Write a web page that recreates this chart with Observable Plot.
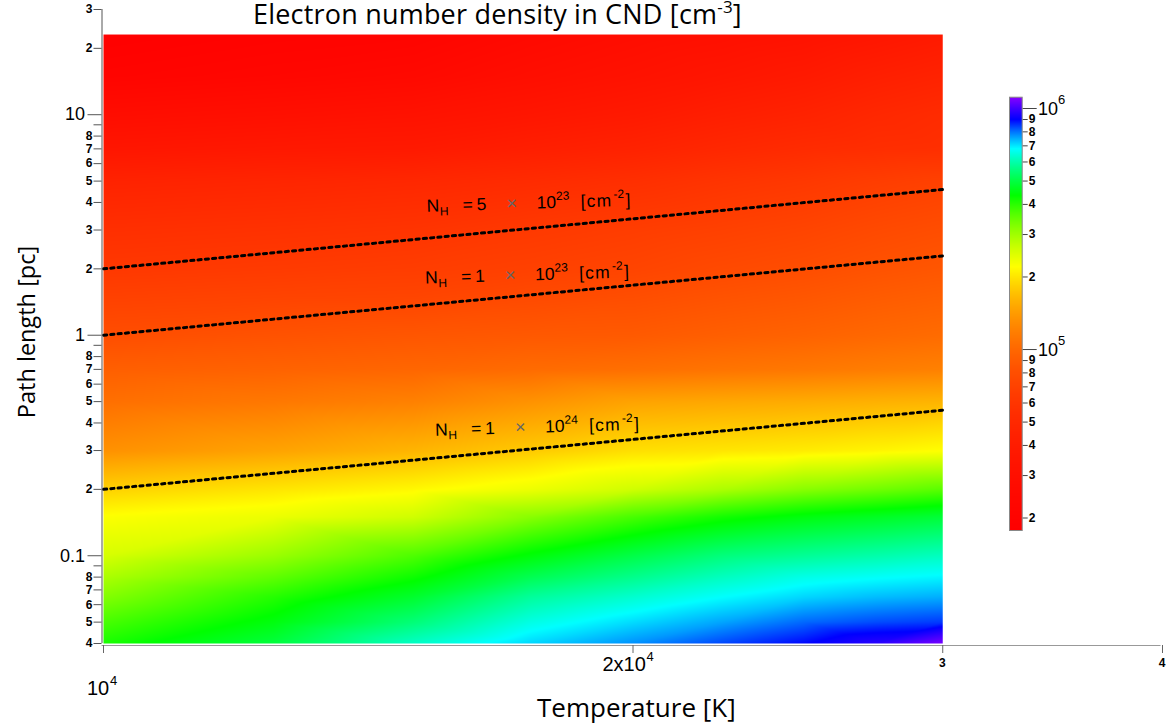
<!DOCTYPE html>
<html><head><meta charset="utf-8">
<script src="https://cdn.jsdelivr.net/npm/d3@7"></script>
<script src="https://cdn.jsdelivr.net/npm/@observablehq/plot@0.6"></script>
<style>
html,body{margin:0;padding:0;background:#fff;}
#wrap{position:relative;width:1168px;height:723px;overflow:hidden;background:#fff;}
#wrap > svg{position:absolute;}
</style></head><body><div id="wrap"></div>
<script>
// ---------------- data ----------------
const temperatures = [10000, 12500, 15000, 17500, 20000, 22500, 25000, 27500, 30000]; // K
const pathLengths = [23, 15, 10, 7, 5, 3, 2, 1.5, 1, 0.7, 0.5, 0.3, 0.2, 0.15, 0.1, 0.08, 0.065, 0.05, 0.04]; // pc
// electron number density (units of 1e3 cm^-3), one list per temperature, rows follow pathLengths
const ne_T10000 = [18, 21, 28, 35, 45, 55, 62, 69, 79, 93, 106, 133, 184, 222, 254, 290, 325, 375, 415];
const ne_T12500 = [20, 23, 30, 37, 47, 57, 64, 71, 83, 96, 113, 147, 200, 236, 305, 355, 405, 450, 495];
const ne_T15000 = [21, 25, 32, 38, 49, 59, 66, 72, 86, 99, 120, 161, 215, 260, 370, 425, 480, 550, 625];
const ne_T17500 = [25, 29, 35, 42, 52, 63, 69, 76, 88, 103, 134, 178, 235, 320, 445, 515, 585, 655, 715];
const ne_T20000 = [28, 32, 38, 45, 55, 66, 72, 79, 89, 106, 147, 195, 260, 375, 505, 570, 635, 710, 775];
const ne_T22500 = [30, 35, 42, 49, 59, 69, 76, 83, 93, 110, 151, 200, 290, 420, 555, 620, 680, 758, 840];
const ne_T25000 = [32, 38, 45, 52, 62, 72, 79, 86, 96, 113, 154, 205, 320, 450, 580, 658, 715, 810, 895];
const ne_T27500 = [35, 42, 49, 54, 66, 76, 83, 90, 100, 117, 158, 212, 340, 470, 600, 675, 737, 835, 965];
const ne_T30000 = [38, 45, 52, 55, 69, 79, 86, 93, 103, 120, 161, 220, 360, 490, 620, 688, 750, 850, 1090];

const colorStops = [17750, 220000, 436000, 680000, 900000, 1114000];
const colorRange = ["#ff0000", "#ffff00", "#00ff00", "#00ffff", "#0000ff", "#8a00ff"];

// constant column density lines
const nhLineT = [10000, 30000];
const nhLine5e23 = [2.0, 4.58];
const nhLine1e23 = [1.0, 2.29];
const nhLine1e24 = [0.2, 0.457];
const nhMantissa = ["5", "1", "1"];
const nhExponent = ["23", "23", "24"];
const nhLabelT = [15280, 15250, 15450];
const nhLabelL = [3.61, 1.707, 0.3485];

const yMajorTicks = [0.1, 1, 10];
const yMinorTicks = [0.04, 0.05, 0.06, 0.07, 0.08, 0.2, 0.3, 0.4, 0.5, 0.6, 0.7, 0.8, 2, 3, 4, 5, 6, 7, 8, 20, 30];
const yBlankTicks = [0.09, 0.9, 9];
const xTicks = [10000, 20000, 30000, 40000];
const cbMajorTicks = [1e5, 1e6];
const cbMinorTicks = [2e4, 3e4, 4e4, 5e4, 6e4, 7e4, 8e4, 9e4, 2e5, 3e5, 4e5, 5e5, 6e5, 7e5, 8e5, 9e5];

// ---------------- build ----------------
const columns = [ne_T10000, ne_T12500, ne_T15000, ne_T17500, ne_T20000, ne_T22500, ne_T25000, ne_T27500, ne_T30000];
const grid = [];
columns.forEach((col, j) => col.forEach((v, i) => grid.push({T: temperatures[j], L: pathLengths[i], ne: v * 1000})));
const nhLines = [
  ...nhLineT.map((t, i) => ({id: "5e23", T: t, L: nhLine5e23[i]})),
  ...nhLineT.map((t, i) => ({id: "1e23", T: t, L: nhLine1e23[i]})),
  ...nhLineT.map((t, i) => ({id: "1e24", T: t, L: nhLine1e24[i]}))
];
const colorOpts = {type: "linear", domain: colorStops, range: colorRange, interpolate: "rgb", clamp: true};
const sans = "'Liberation Sans', Arial, Helvetica, sans-serif";
const human = "'Open Sans', Lato, sans-serif";
const minorFmt = d => String(Math.round(d / Math.pow(10, Math.floor(Math.log10(d) + 1e-9))));

const main = Plot.plot({
  width: 1168, height: 723,
  marginLeft: 103, marginRight: 6, marginTop: 9, marginBottom: 80,
  style: {background: "transparent", fontFamily: sans},
  x: {type: "log", domain: [1e4, 4e4], label: null},
  y: {type: "log", domain: [0.04, 30], label: null},
  color: colorOpts,
  marks: [
    Plot.raster(grid, {x: "T", y: "L", fill: "ne", interpolate: "barycentric", x1: 1e4, x2: 3e4, y1: 23.1, y2: 0.04}),
    Plot.line(nhLines, {x: "T", y: "L", z: "id", stroke: "black", strokeWidth: 3, strokeDasharray: "3.2,4.1"}),
    Plot.ruleX([1e4], {y1: 0.04, y2: 30, dx: -1.5, stroke: "#555"}),
    Plot.ruleY([0.04], {x1: 1e4, x2: 4e4, dy: 2, dx: -1.5, stroke: "#999"}),
    Plot.axisY(yMajorTicks, {tickSize: 14, dx: -1.5, stroke: "#555", label: null, tickFormat: () => ""}),
    Plot.axisY(yMinorTicks, {tickSize: 8, dx: -1.5, stroke: "#555", label: null, tickFormat: () => ""}),
    Plot.axisY(yBlankTicks, {tickSize: 8, dx: -1.5, stroke: "#555", label: null, tickFormat: () => ""}),
    Plot.text(yMajorTicks, {y: d => d, frameAnchor: "left", textAnchor: "end", dx: -18.5, fontSize: 18, fill: "#000", text: d => d < 1 ? "0.1" : String(d)}),
    Plot.text(yMinorTicks, {y: d => d, frameAnchor: "left", textAnchor: "end", dx: -11, fontSize: 12, fontWeight: "bold", fill: "#000", text: minorFmt}),
    Plot.axisX(xTicks, {tickSize: 8, dy: 2, stroke: "#666", label: null, tickFormat: () => ""})
  ]
});
main.style.left = "0px"; main.style.top = "0px";
document.getElementById("wrap").appendChild(main);

const sx = main.scale("x"), sy = main.scale("y");
const X = v => sx.apply(v), Y = v => sy.apply(v);
const svg = d3.select(main);

function addText(sel, x, y, parts, o = {}) {
  const t = sel.append("text")
    .attr("x", x).attr("y", y)
    .attr("font-family", o.family || sans)
    .attr("font-size", o.size || 17)
    .attr("font-weight", o.weight || "normal")
    .attr("text-anchor", o.anchor || "start")
    .attr("fill", "#000");
  if (o.spacing) t.attr("letter-spacing", o.spacing);
  if (o.rotate) t.attr("transform", `rotate(${o.rotate},${x},${y})`);
  for (const p of parts) {
    const ts = t.append("tspan").text(p.t);
    if (p.x != null) ts.attr("x", x + p.x);
    ts.attr("y", y + (p.y || 0));
    if (p.size) ts.attr("font-size", p.size);
    if (p.fill) ts.attr("fill", p.fill);
  }
  return t;
}

// title
addText(svg, 253, 24, [
  {t: "Electron number density in CND [cm"},
  {t: "-3", y: -11, size: 17},
  {t: "]", y: 0}
], {family: human, size: 27, spacing: 0.2});

// axis titles
addText(svg, 537, 717, [{t: "Temperature [K]"}], {family: human, size: 26});
addText(svg, 35, 332, [{t: "Path length [pc]"}], {family: human, size: 23.5, anchor: "middle", rotate: -90});

// x tick labels
addText(svg, X(1e4) - 16, 695, [{t: "10"}, {t: "4", x: 23, y: -10, size: 13}], {size: 20});
addText(svg, X(2e4) - 30, 671, [{t: "2x10"}, {t: "4", x: 44, y: -10, size: 13}], {size: 20});
addText(svg, X(3e4), 667, [{t: "3"}], {size: 12, weight: "bold", anchor: "middle"});
addText(svg, X(4e4), 667, [{t: "4"}], {size: 12, weight: "bold", anchor: "middle"});

// N_H labels
nhMantissa.forEach((m, i) => {
  const x0 = X(nhLabelT[i]), y0 = Y(nhLabelL[i]);
  addText(svg, x0, y0, [
    {t: "N", x: 0},
    {t: "H", x: 13, y: 4, size: 12},
    {t: "=", x: 36},
    {t: m, x: 50},
    {t: "\u00d7", x: 80, fill: "#666", size: 18},
    {t: "10", x: 110},
    {t: nhExponent[i], x: 129.5, y: -8, size: 12},
    {t: "[", x: 154},
    {t: "c", x: 160},
    {t: "m", x: 170},
    {t: "-2", x: 187, y: -8, size: 12},
    {t: "]", x: 199}
  ], {size: 17.5, rotate: -1.7});
});

// ---------------- colour bar ----------------
const cb = Plot.plot({
  width: 80, height: 480,
  marginLeft: 19, marginRight: 48.3, marginTop: 16.7, marginBottom: 30,
  style: {background: "transparent", fontFamily: sans, overflow: "visible"},
  x: {domain: [0, 1], axis: null},
  y: {type: "log", domain: [17750, 1114000], axis: null},
  color: colorOpts,
  marks: [
    Plot.raster({fill: (x, y) => y, x1: 0, x2: 1, y1: 17750, y2: 1114000}),
    Plot.frame({stroke: "#888"}),
    Plot.axisY(cbMinorTicks, {anchor: "right", tickSize: 5, stroke: "#444", label: null, tickFormat: () => ""}),
    Plot.axisY(cbMajorTicks, {anchor: "right", tickSize: 14, stroke: "#444", label: null, tickFormat: () => ""}),
    Plot.text(cbMinorTicks, {y: d => d, frameAnchor: "right", textAnchor: "start", dx: 6.5, fontSize: 12, fontWeight: "bold", fill: "#000", text: minorFmt})
  ]
});
cb.style.left = "990px"; cb.style.top = "80px";
document.getElementById("wrap").appendChild(cb);
const cy = cb.scale("y");
const cbs = d3.select(cb);
cbMajorTicks.forEach(v => {
  const e = Math.round(Math.log10(v));
  addText(cbs, 48, cy.apply(v) + 6.5, [{t: "10"}, {t: String(e), x: 20, y: -11, size: 13}], {size: 18});
});
</script></body></html>
